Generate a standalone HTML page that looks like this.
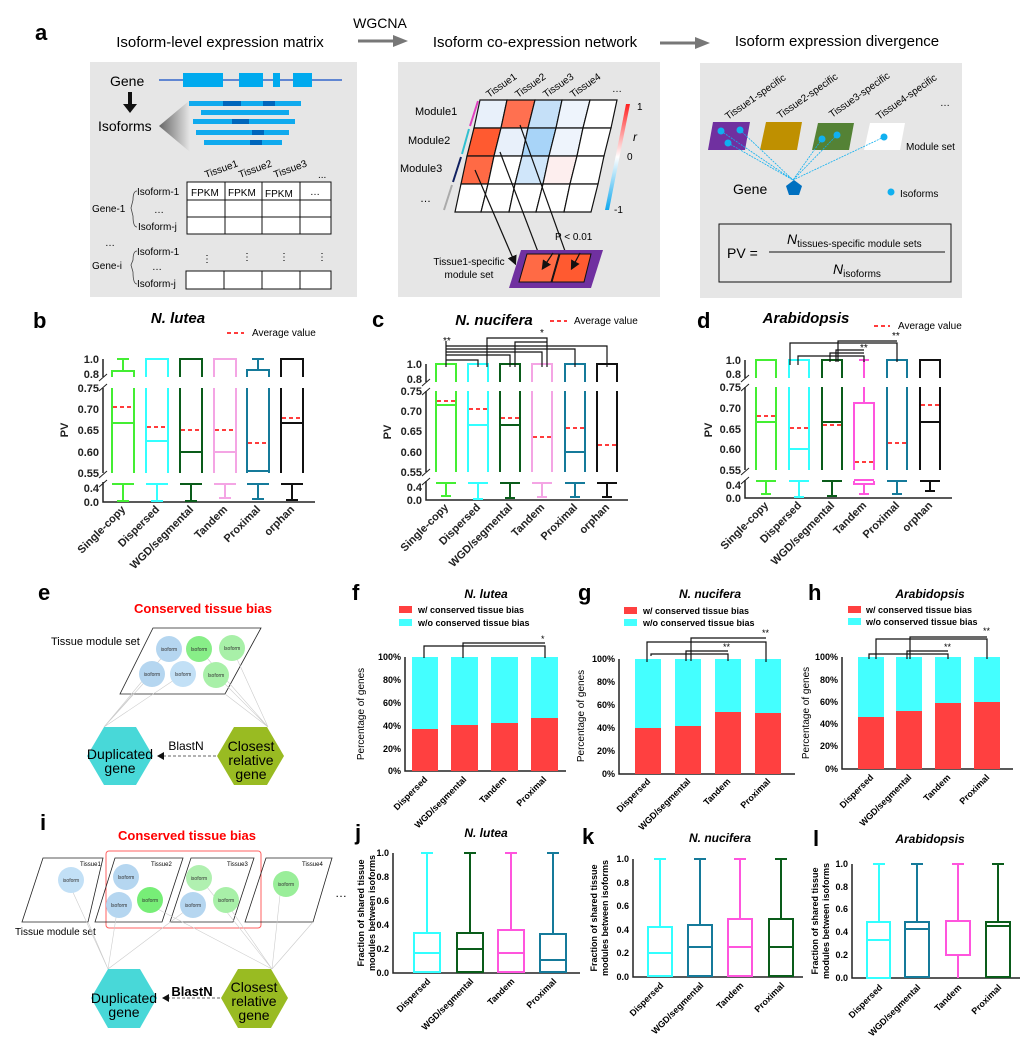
<!DOCTYPE html>
<html><head><meta charset="utf-8"><style>
html,body{margin:0;padding:0;background:#fff;}
svg{display:block;font-family:"Liberation Sans",Arial,sans-serif;}
.t{font-size:11px;font-weight:bold;fill:#222}
.lab{font-size:22px;font-weight:bold}
.ttl{font-size:15px;font-weight:bold;font-style:italic}
.bx{fill:none;stroke-width:2}
.mean{stroke:#ff2020;stroke-width:1.8;stroke-dasharray:4,3}
.ax{stroke:#222;stroke-width:1.5;fill:none}
.br{stroke:#111;stroke-width:1.2;fill:none}
</style></head><body>
<svg width="1033" height="1041" viewBox="0 0 1033 1041" xmlns="http://www.w3.org/2000/svg">
<defs>
<linearGradient id="cb" x1="0" y1="0" x2="0" y2="1"><stop offset="0" stop-color="#ff2020"/><stop offset="0.5" stop-color="#ffffff"/><stop offset="1" stop-color="#10a8ee"/></linearGradient>
<linearGradient id="tri" x1="0" y1="0" x2="1" y2="0"><stop offset="0" stop-color="#666"/><stop offset="1" stop-color="#e6e6e6"/></linearGradient>
<marker id="ar" markerWidth="8" markerHeight="8" refX="6" refY="4" orient="auto"><path d="M0,0 L8,4 L0,8z" fill="#111"/></marker>
</defs>

<!-- ================= Panel a ================= -->
<text x="35" y="40" class="lab">a</text>
<text x="220" y="47" font-size="15" text-anchor="middle">Isoform-level expression matrix</text>
<text x="380" y="28" font-size="14" text-anchor="middle">WGCNA</text>
<path d="M358,41 H395" stroke="#777" stroke-width="3"/><path d="M393,35 L408,41 L393,47z" fill="#777"/>
<text x="535" y="47" font-size="15" text-anchor="middle">Isoform co-expression network</text>
<path d="M660,43 H697" stroke="#777" stroke-width="3"/><path d="M695,37 L710,43 L695,49z" fill="#777"/>
<text x="837" y="46" font-size="15" text-anchor="middle">Isoform expression divergence</text>

<rect x="90" y="62" width="267" height="235" fill="#e6e6e6"/>
<rect x="398" y="62" width="262" height="235" fill="#e6e6e6"/>
<rect x="700" y="63" width="262" height="235" fill="#e6e6e6"/>

<!-- box1 -->
<text x="110" y="86" font-size="14">Gene</text>
<path d="M159,80 H342" stroke="#3366cc" stroke-width="1.5"/>
<g fill="#00aaee"><rect x="183" y="73" width="40" height="14"/><rect x="239" y="73" width="24" height="14"/><rect x="273" y="73" width="7" height="14"/><rect x="293" y="73" width="19" height="14"/></g>
<path d="M130,92 V106" stroke="#111" stroke-width="4"/><path d="M123,104 L130,113 L137,104z" fill="#111"/>
<text x="98" y="131" font-size="14">Isoforms</text>
<path d="M159,126 L190,100 L190,152z" fill="url(#tri)"/>
<g fill="#10aaee"><rect x="189" y="101" width="112" height="5"/><rect x="201" y="110" width="88" height="5"/><rect x="193" y="119" width="102" height="5"/><rect x="196" y="130" width="93" height="5"/><rect x="204" y="140" width="78" height="5"/></g>
<g fill="#0066bb"><rect x="223" y="101" width="18" height="5"/><rect x="263" y="101" width="12" height="5"/><rect x="232" y="119" width="17" height="5"/><rect x="252" y="130" width="12" height="5"/><rect x="250" y="140" width="12" height="5"/></g>
<g font-size="10"><text transform="translate(206,178) rotate(-20)">Tissue1</text><text transform="translate(240,178) rotate(-20)">Tissue2</text><text transform="translate(275,178) rotate(-20)">Tissue3</text><text x="318" y="178">...</text></g>
<g fill="#fff" stroke="#111" stroke-width="1"><rect x="187" y="182" width="144" height="52"/><rect x="186" y="271" width="145" height="18"/></g>
<g stroke="#111" stroke-width="1"><path d="M187,200 H331 M187,217 H331 M225,182 V234 M262,182 V234 M300,182 V234 M224,271 V289 M262,271 V289 M300,271 V289"/></g>
<g font-size="10"><text x="191" y="196">FPKM</text><text x="228" y="196">FPKM</text><text x="265" y="197">FPKM</text><text x="310" y="195">…</text>
<text x="137" y="195">Isoform-1</text><text x="154" y="213">…</text><text x="138" y="230">Isoform-j</text><text x="92" y="212">Gene-1</text>
<text x="105" y="246">…</text>
<text x="137" y="255">Isoform-1</text><text x="152" y="270">…</text><text x="137" y="287">Isoform-j</text><text x="92" y="269">Gene-i</text>
<text x="202" y="262">⋮</text><text x="242" y="260">⋮</text><text x="279" y="260">⋮</text><text x="317" y="260">⋮</text></g>
<path d="M137,191 Q133,191 133,200 L131,208 L133,216 Q133,227 137,227 M137,251 Q133,251 133,260 L131,265 L133,272 Q133,284 137,284" stroke="#444" fill="none" stroke-width="0.8"/>

<!-- box2 heatmap -->
<g font-size="10"><text transform="translate(489,98) rotate(-35)">Tissue1</text><text transform="translate(518,98) rotate(-35)">Tissue2</text><text transform="translate(546,98) rotate(-35)">Tissue3</text><text transform="translate(573,98) rotate(-35)">Tissue4</text><text x="612" y="92">…</text></g>
<g font-size="11"><text x="415" y="115">Module1</text><text x="408" y="144">Module2</text><text x="400" y="172">Module3</text><text x="420" y="202">…</text></g>
<path d="M478,101 L470,126" stroke="#e040c0" stroke-width="2"/><path d="M469,129 L462,154" stroke="#30c0d0" stroke-width="2"/><path d="M461,157 L453,182" stroke="#102060" stroke-width="2"/><path d="M452,185 L444,210" stroke="#aaa" stroke-width="2"/>
<g stroke="#111" stroke-width="1.2">
<path d="M480,100 L507,100 L501,128 L474,128z" fill="#e8f0fa"/><path d="M507,100 L535,100 L528,128 L501,128z" fill="#ff7050"/><path d="M535,100 L562,100 L556,128 L528,128z" fill="#c5e0f8"/><path d="M562,100 L590,100 L583,128 L556,128z" fill="#eef4fc"/><path d="M590,100 L617,100 L611,128 L583,128z" fill="#fff"/>
<path d="M474,128 L501,128 L494,156 L467,156z" fill="#ff5a30"/><path d="M501,128 L528,128 L522,156 L494,156z" fill="#e8f0fa"/><path d="M528,128 L556,128 L549,156 L522,156z" fill="#a8d4f8"/><path d="M556,128 L583,128 L577,156 L549,156z" fill="#eef4fc"/><path d="M583,128 L611,128 L604,156 L577,156z" fill="#fff"/>
<path d="M467,156 L494,156 L488,184 L461,184z" fill="#ff6a45"/><path d="M494,156 L522,156 L515,184 L488,184z" fill="#fff"/><path d="M522,156 L549,156 L543,184 L515,184z" fill="#d0e6fa"/><path d="M549,156 L577,156 L570,184 L543,184z" fill="#fdeeee"/><path d="M577,156 L604,156 L598,184 L570,184z" fill="#fff"/>
<path d="M461,184 L488,184 L481,212 L455,212z" fill="#fff"/><path d="M488,184 L515,184 L509,212 L481,212z" fill="#fff"/><path d="M515,184 L543,184 L536,212 L509,212z" fill="#fff"/><path d="M543,184 L570,184 L564,212 L536,212z" fill="#fff"/><path d="M570,184 L598,184 L591,212 L564,212z" fill="#fff"/>
</g>
<path d="M626,104 L605,210 L609,210 L630,104z" fill="url(#cb)"/>
<g font-size="10"><text x="637" y="110">1</text><text x="633" y="141" font-style="italic" font-size="12">r</text><text x="627" y="160">0</text><text x="614" y="213">-1</text></g>
<path d="M500,152 L543,265" class="br" marker-end="url(#ar)"/><path d="M475,170 L515,263" class="br" marker-end="url(#ar)"/><path d="M520,125 L570,265" class="br" marker-end="url(#ar)"/>
<path d="M521,250 L603,250 L591,288 L509,288z" fill="#7030a0"/>
<path d="M527,254 L559,254 L551,282 L519,282z" fill="#ff6a45" stroke="#111"/><path d="M560,254 L591,254 L584,282 L552,282z" fill="#ff5a30" stroke="#111"/>
<path d="M553,253 L543,268" class="br" marker-end="url(#ar)"/><path d="M580,253 L572,268" class="br" marker-end="url(#ar)"/>
<text x="555" y="240" font-size="10">P &lt; 0.01</text>
<text x="469" y="265" font-size="10" text-anchor="middle">Tissue1-specific</text><text x="469" y="278" font-size="10" text-anchor="middle">module set</text>

<!-- box3 -->
<g font-size="10"><text transform="translate(728,120) rotate(-35)">Tissue1-specific</text><text transform="translate(780,119) rotate(-35)">Tissue2-specific</text><text transform="translate(832,118) rotate(-35)">Tissue3-specific</text><text transform="translate(879,120) rotate(-35)">Tissue4-specific</text><text x="940" y="106">…</text></g>
<path d="M713,122 L750,122 L745,150 L708,150z" fill="#7030a0"/><path d="M766,122 L802,122 L797,150 L760,150z" fill="#bf9000"/><path d="M818,123 L854,123 L849,150 L812,150z" fill="#548235"/><path d="M870,123 L905,123 L900,150 L864,150z" fill="#fff"/>
<g fill="#10b0f0"><circle cx="721" cy="131" r="3.5"/><circle cx="740" cy="130" r="3.5"/><circle cx="728" cy="143" r="3.5"/><circle cx="822" cy="139" r="3.5"/><circle cx="837" cy="135" r="3.5"/><circle cx="884" cy="137" r="3.5"/><circle cx="891" cy="192" r="3.5"/></g>
<g stroke="#10b0f0" stroke-width="0.8" stroke-dasharray="2,1"><path d="M721,131 L793,180 M740,130 L793,180 M728,143 L793,180 M822,139 L793,180 M837,135 L793,180 M884,137 L793,180"/></g>
<path d="M794,180 L802,186 L799,195 L789,195 L786,186z" fill="#0070c0"/>
<text x="733" y="194" font-size="14">Gene</text>
<text x="906" y="150" font-size="10">Module set</text>
<text x="900" y="197" font-size="10">Isoforms</text>
<rect x="719" y="224" width="232" height="58" fill="none" stroke="#111" stroke-width="1"/>
<text x="727" y="258" font-size="14">PV =</text>
<path d="M769,252 H945" stroke="#111" stroke-width="1"/>
<text x="787" y="244" font-size="14" font-style="italic">N<tspan font-size="10" font-style="normal" dy="3">tissues-specific module sets</tspan></text>
<text x="833" y="274" font-size="14" font-style="italic">N<tspan font-size="10" font-style="normal" dy="3">isoforms</tspan></text>

<!-- ================= Panel b ================= -->
<text x="33" y="328" class="lab">b</text>
<text x="178" y="323" class="ttl" text-anchor="middle">N. lutea</text>
<path d="M227,333 H244" class="mean"/><text x="252" y="336" font-size="10">Average value</text>
<g class="ax"><path d="M103,359 V377 M103,388 V473 M103,482 V502 H315"/><path d="M99,381 L107,374 M99,391 L107,384 M99,478 L107,471 M99,487 L107,480" stroke-width="1"/></g>
<g class="t" text-anchor="end"><text x="99" y="363">1.0</text><text x="99" y="378">0.8</text><text x="99" y="392">0.75</text><text x="99" y="413">0.70</text><text x="99" y="434">0.65</text><text x="99" y="456">0.60</text><text x="99" y="477">0.55</text><text x="99" y="492">0.4</text><text x="99" y="506">0.0</text></g>
<text transform="translate(68,430) rotate(-90)" class="t" font-size="12" text-anchor="middle">PV</text>
<g class="bx" stroke="#44ee33"><path d="M117,359 H129 M123,359 V371 M112,377 V371 H134 V377 M112,388 V473 M134,388 V473 M112,423 H134 M112,484 H134 M123,484 V501 M117,501 H129"/></g>
<g class="bx" stroke="#33ffff"><path d="M146,377 V359 H168 V377 M146,388 V473 M168,388 V473 M146,441 H168 M146,484 H168 M157,484 V501 M151,501 H163"/></g>
<g class="bx" stroke="#0a5c1a"><path d="M180,377 V359 H202 V377 M180,388 V473 M202,388 V473 M180,452 H202 M180,484 H202 M191,484 V501 M185,501 H197"/></g>
<g class="bx" stroke="#f4a5e4"><path d="M214,377 V359 H236 V377 M214,388 V473 M236,388 V473 M214,452 H236 M214,484 H236 M225,484 V498 M219,498 H231"/></g>
<g class="bx" stroke="#157a9a"><path d="M252,359 H264 M258,359 V370 M247,377 V370 H269 V377 M247,388 V473 M269,388 V473 M247,471 H269 M247,484 H269 M258,484 V499 M252,499 H264"/></g>
<g class="bx" stroke="#111"><path d="M281,377 V359 H303 V377 M281,388 V473 M303,388 V473 M281,423 H303 M281,484 H303 M292,484 V500 M286,500 H298"/></g>
<g><path d="M113,407 H134 M147,427 H168 M181,430 H202 M215,430 H236 M248,443 H269 M282,418 H303" class="mean"/></g>
<g class="t"><text transform="translate(126,510) rotate(-45)" text-anchor="end">Single-copy</text><text transform="translate(160,510) rotate(-45)" text-anchor="end">Dispersed</text><text transform="translate(194,510) rotate(-45)" text-anchor="end">WGD/segmental</text><text transform="translate(228,510) rotate(-45)" text-anchor="end">Tandem</text><text transform="translate(261,510) rotate(-45)" text-anchor="end">Proximal</text><text transform="translate(295,510) rotate(-45)" text-anchor="end">orphan</text></g>

<!-- ================= Panel c ================= -->
<text x="372" y="327" class="lab">c</text>
<text x="494" y="325" class="ttl" font-size="17" text-anchor="middle">N. nucifera</text>
<path d="M550,321 H567" class="mean"/><text x="574" y="324" font-size="10">Average value</text>
<g class="ax"><path d="M426,364 V382 M426,391 V472 M426,481 V500 H628"/><path d="M422,386 L430,379 M422,395 L430,388 M422,476 L430,469 M422,485 L430,478" stroke-width="1"/></g>
<g class="t" text-anchor="end"><text x="422" y="368">1.0</text><text x="422" y="383">0.8</text><text x="422" y="395">0.75</text><text x="422" y="415">0.70</text><text x="422" y="435">0.65</text><text x="422" y="456">0.60</text><text x="422" y="476">0.55</text><text x="422" y="491">0.4</text><text x="422" y="504">0.0</text></g>
<text transform="translate(391,432) rotate(-90)" class="t" font-size="12" text-anchor="middle">PV</text>
<g class="bx" stroke="#44ee33"><path d="M436,382 V364 H456 V382 M436,391 V472 M456,391 V472 M436,405 H456 M436,483 H456 M446,483 V496 M441,496 H451"/></g>
<g class="bx" stroke="#33ffff"><path d="M468,382 V364 H488 V382 M468,391 V472 M488,391 V472 M468,425 H488 M468,483 H488 M478,483 V499 M473,499 H483"/></g>
<g class="bx" stroke="#0a5c1a"><path d="M500,382 V364 H520 V382 M500,391 V472 M520,391 V472 M500,425 H520 M500,483 H520 M510,483 V498 M505,498 H515"/></g>
<g class="bx" stroke="#f4a5e4"><path d="M532,382 V364 H552 V382 M532,391 V472 M552,391 V472 M532,483 H552 M542,483 V497 M537,497 H547"/></g>
<g class="bx" stroke="#157a9a"><path d="M565,382 V364 H585 V382 M565,391 V472 M585,391 V472 M565,452 H585 M565,483 H585 M575,483 V497 M570,497 H580"/></g>
<g class="bx" stroke="#111"><path d="M597,382 V364 H617 V382 M597,391 V472 M617,391 V472 M597,483 H617 M607,483 V497 M602,497 H612"/></g>
<path d="M437,401 H456 M469,409 H488 M501,418 H520 M533,437 H552 M566,428 H585 M598,445 H617" class="mean"/>
<g class="br"><path d="M446,367 V341 M446,360 H478 V367 M446,355 H510 V367 M446,352 H542 V367 M446,349 H575 V367 M446,346 H607 V367 M487,367 V338 H547 V367 M515,367 V342 H547"/></g>
<text x="443" y="344" font-size="10">**</text><text x="540" y="336" font-size="10">*</text>
<g class="t"><text transform="translate(449,508) rotate(-45)" text-anchor="end">Single-copy</text><text transform="translate(481,508) rotate(-45)" text-anchor="end">Dispersed</text><text transform="translate(513,508) rotate(-45)" text-anchor="end">WGD/segmental</text><text transform="translate(545,508) rotate(-45)" text-anchor="end">Tandem</text><text transform="translate(578,508) rotate(-45)" text-anchor="end">Proximal</text><text transform="translate(610,508) rotate(-45)" text-anchor="end">orphan</text></g>

<!-- ================= Panel d ================= -->
<text x="697" y="328" class="lab">d</text>
<text x="806" y="323" class="ttl" font-size="17" text-anchor="middle">Arabidopsis</text>
<path d="M874,326 H890" class="mean"/><text x="898" y="329" font-size="10">Average value</text>
<g class="ax"><path d="M745,360 V378 M745,387 V470 M745,480 V498 H952"/><path d="M741,382 L749,375 M741,391 L749,384 M741,475 L749,468 M741,484 L749,477" stroke-width="1"/></g>
<g class="t" text-anchor="end"><text x="741" y="364">1.0</text><text x="741" y="378">0.8</text><text x="741" y="391">0.75</text><text x="741" y="412">0.70</text><text x="741" y="433">0.65</text><text x="741" y="453">0.60</text><text x="741" y="474">0.55</text><text x="741" y="489">0.4</text><text x="741" y="502">0.0</text></g>
<text transform="translate(712,430) rotate(-90)" class="t" font-size="12" text-anchor="middle">PV</text>
<g class="bx" stroke="#44ee33"><path d="M756,378 V360 H776 V378 M756,387 V470 M776,387 V470 M756,422 H776 M756,481 H776 M766,481 V494 M761,494 H771"/></g>
<g class="bx" stroke="#33ffff"><path d="M789,378 V360 H809 V378 M789,387 V470 M809,387 V470 M789,449 H809 M789,481 H809 M799,481 V497 M794,497 H804"/></g>
<g class="bx" stroke="#0a5c1a"><path d="M822,378 V360 H842 V378 M822,387 V470 M842,387 V470 M822,422 H842 M822,481 H842 M832,481 V496 M827,496 H837"/></g>
<g class="bx" stroke="#ff55dd"><path d="M859,360 H869 M864,360 V378 M864,387 V403 M854,470 V403 H874 V470 M854,481 V484 H874 V481 M854,480 H874 M864,484 V494 M859,494 H869"/></g>
<g class="bx" stroke="#157a9a"><path d="M887,378 V360 H907 V378 M887,387 V470 M907,387 V470 M887,481 H907 M897,481 V494 M892,494 H902"/></g>
<g class="bx" stroke="#111"><path d="M920,378 V360 H940 V378 M920,387 V470 M940,387 V470 M920,422 H940 M920,481 H940 M930,481 V491 M925,491 H935"/></g>
<path d="M757,416 H776 M790,428 H809 M823,425 H842 M855,462 H874 M888,443 H907 M921,405 H940" class="mean"/>
<g class="br"><path d="M790,365 V343 H897 V362 M798,365 V356 H864 V362 M830,362 V353 H864 M836,362 V350 H864 M838,362 V341 H897"/></g>
<text x="860" y="351" font-size="10">**</text><text x="892" y="339" font-size="10">**</text>
<g class="t"><text transform="translate(769,506) rotate(-45)" text-anchor="end">Single-copy</text><text transform="translate(802,506) rotate(-45)" text-anchor="end">Dispersed</text><text transform="translate(835,506) rotate(-45)" text-anchor="end">WGD/segmental</text><text transform="translate(867,506) rotate(-45)" text-anchor="end">Tandem</text><text transform="translate(900,506) rotate(-45)" text-anchor="end">Proximal</text><text transform="translate(933,506) rotate(-45)" text-anchor="end">orphan</text></g>

<!-- ================= Panel e ================= -->
<text x="38" y="600" class="lab">e</text>
<text x="203" y="613" font-size="13" font-weight="bold" fill="#ff0000" text-anchor="middle">Conserved tissue bias</text>
<text x="51" y="645" font-size="11">Tissue module set</text>
<path d="M153,628 L261,628 L225,694 L120,694z" fill="#fff" stroke="#222" stroke-width="0.8"/>
<g stroke="#ccc" stroke-width="0.6"><path d="M104,727 L152,674 M104,727 L183,674 M104,727 L169,649 M268,727 L216,675 M268,727 L232,648 M268,727 L199,649 M104,727 L133,694 M268,727 L225,694"/></g>
<g font-size="5" text-anchor="middle" fill="#333">
<circle cx="169" cy="649" r="13" fill="#b5d6f0"/><circle cx="199" cy="649" r="13" fill="#88ee88"/><circle cx="232" cy="648" r="13" fill="#a8f0a8"/>
<circle cx="152" cy="674" r="13" fill="#b5d6f0"/><circle cx="183" cy="674" r="13" fill="#c2e0f6"/><circle cx="216" cy="675" r="13" fill="#a8f0a8"/>
<text x="169" y="651">isoform</text><text x="199" y="651">Isoform</text><text x="232" y="650">Isoform</text><text x="152" y="676">isoform</text><text x="183" y="676">Isoform</text><text x="216" y="677">Isoform</text></g>
<path d="M104,727 L136,727 L153,756 L136,785 L104,785 L87,756z" fill="#48d8d8"/>
<path d="M234,727 L267,727 L284,756 L267,785 L234,785 L217,756z" fill="#99bb22"/>
<g font-size="14" text-anchor="middle"><text x="120" y="759">Duplicated</text><text x="120" y="773">gene</text><text x="251" y="751">Closest</text><text x="251" y="765">relative</text><text x="251" y="779">gene</text></g>
<text x="186" y="750" font-size="12" text-anchor="middle">BlastN</text>
<path d="M216,756 H162" stroke="#666" stroke-dasharray="3,2"/><path d="M164,752 L157,756 L164,760z" fill="#111"/>

<!-- ================= Panel f ================= -->
<text x="352" y="600" class="lab">f</text>
<text x="486" y="598" font-size="12" font-weight="bold" font-style="italic" text-anchor="middle">N. lutea</text>
<rect x="399" y="606" width="13" height="7" fill="#ff4040"/><text x="418" y="613" font-size="9" font-weight="bold">w/ conserved tissue bias</text>
<rect x="399" y="619" width="13" height="7" fill="#44ffff"/><text x="418" y="626" font-size="9" font-weight="bold">w/o conserved tissue bias</text>
<g class="ax"><path d="M405,657 V771 H566"/></g>
<g font-size="9" font-weight="bold" text-anchor="end"><text x="401" y="660">100%</text><text x="401" y="683">80%</text><text x="401" y="706">60%</text><text x="401" y="729">40%</text><text x="401" y="752">20%</text><text x="401" y="774">0%</text></g>
<text transform="translate(364,714) rotate(-90)" font-size="10" text-anchor="middle">Percentage of  genes</text>
<rect x="412" y="657" width="26" height="114" fill="#44ffff"/><rect x="412" y="729" width="26" height="42" fill="#ff4040"/>
<rect x="451" y="657" width="27" height="114" fill="#44ffff"/><rect x="451" y="725" width="27" height="46" fill="#ff4040"/>
<rect x="491" y="657" width="27" height="114" fill="#44ffff"/><rect x="491" y="723" width="27" height="48" fill="#ff4040"/>
<rect x="531" y="657" width="27" height="114" fill="#44ffff"/><rect x="531" y="718" width="27" height="53" fill="#ff4040"/>
<g class="br"><path d="M424,658 V646 H545 V658 M463,658 V643 H545"/></g><text x="541" y="642" font-size="9">*</text>
<g font-size="9" font-weight="bold"><text transform="translate(428,780) rotate(-45)" text-anchor="end">Dispersed</text><text transform="translate(467,780) rotate(-45)" text-anchor="end">WGD/segmental</text><text transform="translate(507,780) rotate(-45)" text-anchor="end">Tandem</text><text transform="translate(547,780) rotate(-45)" text-anchor="end">Proximal</text></g>

<!-- ================= Panel g ================= -->
<text x="578" y="600" class="lab">g</text>
<text x="710" y="598" font-size="12" font-weight="bold" font-style="italic" text-anchor="middle">N. nucifera</text>
<rect x="624" y="607" width="13" height="7" fill="#ff4040"/><text x="643" y="614" font-size="9" font-weight="bold">w/ conserved tissue bias</text>
<rect x="624" y="619" width="13" height="7" fill="#44ffff"/><text x="643" y="626" font-size="9" font-weight="bold">w/o conserved tissue bias</text>
<g class="ax"><path d="M619,659 V774 H795"/></g>
<g font-size="9" font-weight="bold" text-anchor="end"><text x="615" y="662">100%</text><text x="615" y="685">80%</text><text x="615" y="708">60%</text><text x="615" y="731">40%</text><text x="615" y="754">20%</text><text x="615" y="777">0%</text></g>
<text transform="translate(584,716) rotate(-90)" font-size="10" text-anchor="middle">Percentage of  genes</text>
<rect x="635" y="659" width="26" height="115" fill="#44ffff"/><rect x="635" y="728" width="26" height="46" fill="#ff4040"/>
<rect x="675" y="659" width="26" height="115" fill="#44ffff"/><rect x="675" y="726" width="26" height="48" fill="#ff4040"/>
<rect x="715" y="659" width="26" height="115" fill="#44ffff"/><rect x="715" y="712" width="26" height="62" fill="#ff4040"/>
<rect x="755" y="659" width="26" height="115" fill="#44ffff"/><rect x="755" y="713" width="26" height="61" fill="#ff4040"/>
<g class="br"><path d="M647,662 V642 H766 V662 M651,656 V654 H728 V661 M686,661 V651 H728 M691,661 V638 H766"/></g>
<text x="723" y="650" font-size="9">**</text><text x="762" y="636" font-size="9">**</text>
<g font-size="9" font-weight="bold"><text transform="translate(651,782) rotate(-45)" text-anchor="end">Dispersed</text><text transform="translate(691,782) rotate(-45)" text-anchor="end">WGD/segmental</text><text transform="translate(731,782) rotate(-45)" text-anchor="end">Tandem</text><text transform="translate(771,782) rotate(-45)" text-anchor="end">Proximal</text></g>

<!-- ================= Panel h ================= -->
<text x="808" y="600" class="lab">h</text>
<text x="930" y="598" font-size="12" font-weight="bold" font-style="italic" text-anchor="middle">Arabidopsis</text>
<rect x="848" y="606" width="13" height="7" fill="#ff4040"/><text x="866" y="613" font-size="9" font-weight="bold">w/ conserved tissue bias</text>
<rect x="848" y="618" width="13" height="7" fill="#44ffff"/><text x="866" y="625" font-size="9" font-weight="bold">w/o conserved tissue bias</text>
<g class="ax"><path d="M842,657 V769 H1013"/></g>
<g font-size="9" font-weight="bold" text-anchor="end"><text x="838" y="660">100%</text><text x="838" y="683">80%</text><text x="838" y="705">60%</text><text x="838" y="727">40%</text><text x="838" y="749">20%</text><text x="838" y="772">0%</text></g>
<text transform="translate(809,713) rotate(-90)" font-size="10" text-anchor="middle">Percentage of  genes</text>
<rect x="858" y="657" width="26" height="112" fill="#44ffff"/><rect x="858" y="717" width="26" height="52" fill="#ff4040"/>
<rect x="896" y="657" width="26" height="112" fill="#44ffff"/><rect x="896" y="711" width="26" height="58" fill="#ff4040"/>
<rect x="935" y="657" width="26" height="112" fill="#44ffff"/><rect x="935" y="703" width="26" height="66" fill="#ff4040"/>
<rect x="974" y="657" width="26" height="112" fill="#44ffff"/><rect x="974" y="702" width="26" height="67" fill="#ff4040"/>
<g class="br"><path d="M869,659 V654 H948 V659 M876,659 V639 H987 V659 M907,659 V651 H948 M910,659 V637 H987"/></g>
<text x="944" y="650" font-size="9">**</text><text x="983" y="634" font-size="9">**</text>
<g font-size="9" font-weight="bold"><text transform="translate(874,778) rotate(-45)" text-anchor="end">Dispersed</text><text transform="translate(912,778) rotate(-45)" text-anchor="end">WGD/segmental</text><text transform="translate(951,778) rotate(-45)" text-anchor="end">Tandem</text><text transform="translate(990,778) rotate(-45)" text-anchor="end">Proximal</text></g>

<!-- ================= Panel i ================= -->
<text x="40" y="830" class="lab">i</text>
<text x="187" y="840" font-size="13" font-weight="bold" fill="#ff0000" text-anchor="middle">Conserved tissue bias</text>
<rect x="106" y="851" width="155" height="77" rx="3" fill="none" stroke="#ff6060" stroke-width="1"/>
<g fill="none" stroke="#222" stroke-width="0.8"><path d="M43,858 L103,858 L88,922 L22,922z"/><path d="M115,858 L183,858 L162,922 L95,922z"/><path d="M191,858 L254,858 L233,922 L170,922z"/><path d="M266,858 L332,858 L313,922 L245,922z"/></g>
<g font-size="6"><text x="80" y="866">Tissue1</text><text x="151" y="866">Tissue2</text><text x="227" y="866">Tissue3</text><text x="302" y="866">Tissue4</text></g>
<text x="335" y="897" font-size="12">…</text>
<text x="15" y="935" font-size="10">Tissue module set</text>
<g stroke="#ccc" stroke-width="0.6"><path d="M108,969 L71,888 M108,969 L118,905 M108,969 L193,905 M108,969 L88,922 M272,969 L150,905 M272,969 L225,901 M272,969 L199,877 M272,969 L280,895 M272,969 L313,922"/></g>
<g font-size="5" text-anchor="middle" fill="#333">
<circle cx="71" cy="880" r="13" fill="#c2e0f6"/><circle cx="126" cy="877" r="13" fill="#b5d6f0"/><circle cx="150" cy="900" r="13" fill="#77ee77"/><circle cx="119" cy="905" r="13" fill="#b5d6f0"/>
<circle cx="199" cy="878" r="13" fill="#b0f0b0"/><circle cx="226" cy="900" r="13" fill="#a8f0a8"/><circle cx="193" cy="905" r="13" fill="#b5d6f0"/><circle cx="286" cy="884" r="13" fill="#99ee99"/>
<text x="71" y="882">isoform</text><text x="126" y="879">Isoform</text><text x="150" y="902">isoform</text><text x="119" y="907">Isoform</text><text x="199" y="880">isoform</text><text x="226" y="902">isoform</text><text x="193" y="907">isoform</text><text x="286" y="886">isoform</text></g>
<path d="M108,969 L140,969 L157,998 L140,1028 L108,1028 L91,998z" fill="#48d8d8"/>
<path d="M238,969 L271,969 L288,998 L271,1028 L238,1028 L221,998z" fill="#99bb22"/>
<g font-size="14" text-anchor="middle"><text x="124" y="1003">Duplicated</text><text x="124" y="1017">gene</text><text x="254" y="992">Closest</text><text x="254" y="1006">relative</text><text x="254" y="1020">gene</text></g>
<text x="192" y="996" font-size="13" font-weight="bold" text-anchor="middle">BlastN</text>
<path d="M220,998 H167" stroke="#666" stroke-dasharray="3,2"/><path d="M169,994 L162,998 L169,1002z" fill="#111"/>

<!-- ================= Panel j ================= -->
<text x="355" y="840" class="lab">j</text>
<text x="486" y="837" font-size="12" font-weight="bold" font-style="italic" text-anchor="middle">N. lutea</text>
<g class="ax"><path d="M393,853 V973 H580"/></g>
<g font-size="9" font-weight="bold" text-anchor="end"><text x="389" y="856">1.0</text><text x="389" y="880">0.8</text><text x="389" y="904">0.6</text><text x="389" y="928">0.4</text><text x="389" y="952">0.2</text><text x="389" y="976">0.0</text></g>
<text transform="translate(364,913) rotate(-90)" font-size="9" font-weight="bold" text-anchor="middle">Fraction of shared tissue</text>
<text transform="translate(375,913) rotate(-90)" font-size="9" font-weight="bold" text-anchor="middle">modules between isoforms</text>
<g class="bx" stroke="#33ffff"><path d="M421,853 H433 M427,853 V933 M414,933 H440 V972 H414z M414,953 H440"/></g>
<g class="bx" stroke="#0a5c1a"><path d="M464,853 H476 M470,853 V933 M457,933 H483 V972 H457z M457,949 H483"/></g>
<g class="bx" stroke="#ff55dd"><path d="M505,853 H517 M511,853 V930 M498,930 H524 V972 H498z M498,953 H524"/></g>
<g class="bx" stroke="#157a9a"><path d="M547,853 H559 M553,853 V934 M540,934 H566 V972 H540z M540,960 H566"/></g>
<g font-size="9" font-weight="bold"><text transform="translate(431,982) rotate(-45)" text-anchor="end">Dispersed</text><text transform="translate(474,982) rotate(-45)" text-anchor="end">WGD/segmental</text><text transform="translate(515,982) rotate(-45)" text-anchor="end">Tandem</text><text transform="translate(557,982) rotate(-45)" text-anchor="end">Proximal</text></g>

<!-- ================= Panel k ================= -->
<text x="582" y="844" class="lab">k</text>
<text x="720" y="842" font-size="12" font-weight="bold" font-style="italic" text-anchor="middle">N. nucifera</text>
<g class="ax"><path d="M633,859 V977 H803"/></g>
<g font-size="9" font-weight="bold" text-anchor="end"><text x="629" y="862">1.0</text><text x="629" y="886">0.8</text><text x="629" y="909">0.6</text><text x="629" y="933">0.4</text><text x="629" y="956">0.2</text><text x="629" y="980">0.0</text></g>
<text transform="translate(597,918) rotate(-90)" font-size="9" font-weight="bold" text-anchor="middle">Fraction of shared tissue</text>
<text transform="translate(608,918) rotate(-90)" font-size="9" font-weight="bold" text-anchor="middle">modules between isoforms</text>
<g class="bx" stroke="#33ffff"><path d="M654,859 H666 M660,859 V927 M648,927 H672 V976 H648z M648,953 H672"/></g>
<g class="bx" stroke="#157a9a"><path d="M694,859 H706 M700,859 V925 M688,925 H712 V976 H688z M688,947 H712"/></g>
<g class="bx" stroke="#ff55dd"><path d="M734,859 H746 M740,859 V919 M728,919 H752 V976 H728z M728,947 H752"/></g>
<g class="bx" stroke="#0a5c1a"><path d="M775,859 H787 M781,859 V919 M769,919 H793 V976 H769z M769,947 H793"/></g>
<g font-size="9" font-weight="bold"><text transform="translate(664,986) rotate(-45)" text-anchor="end">Dispersed</text><text transform="translate(704,986) rotate(-45)" text-anchor="end">WGD/segmental</text><text transform="translate(744,986) rotate(-45)" text-anchor="end">Tandem</text><text transform="translate(785,986) rotate(-45)" text-anchor="end">Proximal</text></g>

<!-- ================= Panel l ================= -->
<text x="813" y="846" class="lab">l</text>
<text x="930" y="843" font-size="12" font-weight="bold" font-style="italic" text-anchor="middle">Arabidopsis</text>
<g class="ax"><path d="M852,864 V978 H1020"/></g>
<g font-size="9" font-weight="bold" text-anchor="end"><text x="848" y="867">1.0</text><text x="848" y="890">0.8</text><text x="848" y="912">0.6</text><text x="848" y="935">0.4</text><text x="848" y="958">0.2</text><text x="848" y="981">0.0</text></g>
<text transform="translate(818,921) rotate(-90)" font-size="9" font-weight="bold" text-anchor="middle">Fraction of shared tissue</text>
<text transform="translate(829,921) rotate(-90)" font-size="9" font-weight="bold" text-anchor="middle">modules between isoforms</text>
<g class="bx" stroke="#33ffff"><path d="M873,864 H885 M879,864 V922 M867,922 H890 V978 H867z M867,940 H890"/></g>
<g class="bx" stroke="#157a9a"><path d="M911,864 H923 M917,864 V922 M905,922 H929 V977 H905z M905,929 H929"/></g>
<g class="bx" stroke="#ff55dd"><path d="M952,864 H964 M958,864 V921 M946,921 H970 V955 H946z M958,955 V978"/></g>
<g class="bx" stroke="#0a5c1a"><path d="M992,864 H1004 M998,864 V922 M986,922 H1010 V977 H986z M986,926 H1010"/></g>
<g font-size="9" font-weight="bold"><text transform="translate(883,988) rotate(-45)" text-anchor="end">Dispersed</text><text transform="translate(921,988) rotate(-45)" text-anchor="end">WGD/segmental</text><text transform="translate(962,988) rotate(-45)" text-anchor="end">Tandem</text><text transform="translate(1002,988) rotate(-45)" text-anchor="end">Proximal</text></g>
</svg>
</body></html>
